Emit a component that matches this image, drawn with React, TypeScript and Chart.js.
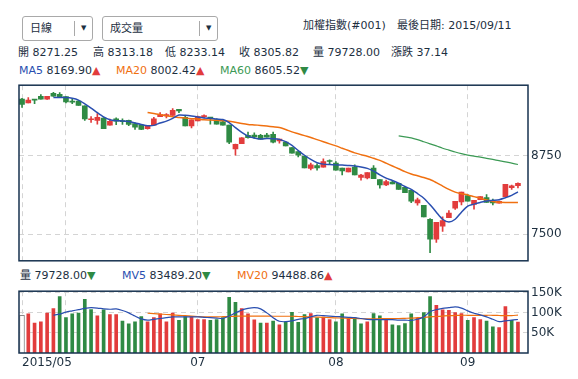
import React, { useEffect, useRef } from 'react';
import { Chart, registerables } from 'chart.js';
Chart.register(...registerables);

const FONT = '"DejaVu Sans", "Noto Sans CJK TC", sans-serif';
const RED = '#e23c3c';
const GREEN = '#2f8a44';
const BLUE = '#2a4fb0';
const ORANGE = '#f07010';
const MA60C = '#3c9a55';
const NAVY = '#17324f';
const TEXT = '#1d2f3f';
const GRID = '#d4d4d4';

const monthTickIndex = [0, 7, 28, 50, 71];
const monthTickLabels = ['2015/05', '06', '07', '08', '09'];
const priceTicks = [7500, 8750];
const volumeTicks = [50000, 100000, 150000];
const volumeTickLabels = ['50K', '100K', '150K'];

const open = [
  9643, 9583, 9638, 9687, 9643, 9736, 9721, 9683, 9613, 9613,
  9539, 9316, 9306, 9342, 9232, 9331, 9302, 9306, 9257, 9232,
  9173, 9232, 9365, 9376, 9386, 9480, 9356, 9217, 9297, 9365,
  9356, 9316, 9282, 9232, 8852, 8935, 9069, 9075, 9069, 9075,
  9084, 8980, 8961, 8876, 8812, 8738, 8545, 8590, 8565, 8664,
  8630, 8550, 8490, 8565, 8402, 8393, 8550, 8368, 8283, 8328,
  8308, 8244, 8194, 7997, 7957, 7734, 7419, 7627, 7760, 7912,
  8012, 8111, 7972, 8046, 8081, 8022, 7992, 8096, 8239, 8271.25,
];
const high = [
  9658, 9668, 9640, 9717, 9690, 9751, 9746, 9685, 9643, 9623,
  9539, 9365, 9416, 9350, 9327, 9346, 9331, 9311, 9267, 9240,
  9222, 9356, 9430, 9416, 9494, 9480, 9380, 9316, 9376, 9395,
  9356, 9331, 9306, 9232, 8930, 9035, 9119, 9109, 9084, 9099,
  9119, 9010, 8961, 8876, 8812, 8738, 8630, 8615, 8694, 8679,
  8654, 8550, 8550, 8600, 8451, 8476, 8590, 8368, 8357, 8343,
  8308, 8244, 8194, 8071, 7957, 7749, 7686, 7775, 7874, 8022,
  8170, 8130, 8037, 8096, 8130, 8056, 8027, 8293, 8278, 8313.18,
];
const low = [
  9514, 9583, 9573, 9643, 9640, 9685, 9680, 9583, 9573, 9543,
  9306, 9276, 9247, 9173, 9232, 9238, 9242, 9222, 9164, 9160,
  9168, 9232, 9365, 9346, 9386, 9430, 9217, 9187, 9297, 9346,
  9247, 9247, 9232, 8935, 8753, 8935, 9024, 9020, 9010, 9040,
  8950, 8946, 8901, 8787, 8728, 8550, 8520, 8516, 8565, 8605,
  8516, 8442, 8490, 8442, 8357, 8378, 8382, 8230, 8268, 8298,
  8209, 8160, 8000, 7960, 7775, 7207, 7370, 7542, 7760, 7893,
  7963, 8022, 7898, 8046, 8002, 7963, 7992, 8096, 8209, 8233.14,
];
const close = [
  9558, 9628, 9628, 9643, 9687, 9690, 9680, 9598, 9595, 9543,
  9330, 9325, 9356, 9173, 9290, 9292, 9287, 9242, 9198, 9164,
  9217, 9331, 9398, 9400, 9465, 9455, 9217, 9316, 9365, 9380,
  9341, 9247, 9232, 8961, 8926, 9028, 9032, 9045, 9010, 9040,
  8961, 9010, 8901, 8787, 8753, 8550, 8600, 8550, 8654, 8654,
  8516, 8506, 8550, 8442, 8438, 8476, 8382, 8283, 8333, 8298,
  8209, 8160, 8022, 8046, 7775, 7419, 7686, 7716, 7834, 8022,
  8170, 8022, 8037, 8096, 8002, 7997, 8022, 8293, 8268.68, 8305.82,
];
const volume = [
  94000, 100000, 77000, 80000, 102000, 113000, 143000, 91000, 100000, 102000,
  136000, 111000, 95000, 110000, 98000, 98000, 82000, 75000, 80000, 93000,
  80000, 91000, 100000, 80000, 102000, 84000, 93000, 93000, 86000, 86000,
  84000, 86000, 91000, 141000, 129000, 113000, 100000, 85000, 77000, 77000,
  82000, 73000, 80000, 104000, 79000, 98000, 101000, 90000, 92000, 86000,
  80000, 100000, 88000, 90000, 75000, 80000, 101000, 95000, 86000, 73000,
  71000, 76000, 100000, 89000, 103000, 143000, 121000, 110000, 109000, 103000,
  101000, 84000, 91000, 86000, 82000, 68000, 66000, 118000, 84000, 79728,
];
const ma5 = [
  null, null, null, null, null, 9668, 9668, 9668, 9657, 9628,
  9569, 9502, 9428, 9361, 9316, 9302, 9297, 9287, 9264, 9242,
  9223, 9227, 9265, 9294, 9339, 9391, 9386, 9376, 9361, 9345,
  9339, 9328, 9319, 9272, 9190, 9116, 9057, 9027, 9012, 9017,
  9015, 9005, 8968, 8909, 8827, 8753, 8686, 8634, 8612, 8605,
  8600, 8597, 8590, 8582, 8568, 8545, 8501, 8442, 8390, 8353,
  8308, 8256, 8212, 8145, 8071, 7967, 7849, 7737, 7693, 7737,
  7849, 7945, 7977, 8004, 8027, 8037, 8046, 8078, 8115, 8169.9,
];
const ma20 = [
  null, null, null, null, null, null, null, null, null, null,
  null, null, null, null, null, null, null, null, null, null,
  9431, 9416, 9398, 9379, 9364, 9354, 9343, 9334, 9327, 9316,
  9313, 9309, 9302, 9294, 9276, 9257, 9242, 9235, 9227, 9217,
  9205, 9193, 9161, 9124, 9094, 9064, 9035, 9001, 8968, 8934,
  8901, 8864, 8827, 8790, 8763, 8738, 8704, 8671, 8627, 8582,
  8538, 8493, 8456, 8427, 8400, 8367, 8318, 8264, 8212, 8167,
  8141, 8123, 8096, 8071, 8041, 8019, 8007, 8004, 8004, 8002.42,
];
const ma60 = [
  null, null, null, null, null, null, null, null, null, null,
  null, null, null, null, null, null, null, null, null, null,
  null, null, null, null, null, null, null, null, null, null,
  null, null, null, null, null, null, null, null, null, null,
  null, null, null, null, null, null, null, null, null, null,
  null, null, null, null, null, null, null, null, null, null,
  9060, 9045, 9030, 9002, 8968, 8934, 8901, 8864, 8835, 8805,
  8778, 8756, 8738, 8723, 8704, 8686, 8667, 8649, 8627, 8605.52,
];
const mv5 = [
  null, null, null, null, null, 94000, 97000, 102000, 105000, 108000,
  111000, 113000, 112000, 110000, 109000, 110000, 106000, 100000, 92000, 85000,
  82000, 84000, 86000, 88000, 90000, 90000, 90000, 90000, 90000, 89000,
  88000, 87000, 86000, 92000, 100000, 107000, 111000, 113000, 110000, 100000,
  88000, 79000, 78000, 80000, 84000, 86000, 90000, 94000, 93000, 92000,
  91000, 90000, 89000, 88000, 86000, 84000, 83000, 83000, 83000, 83000,
  82000, 82000, 81000, 84000, 90000, 103000, 108000, 111000, 113000, 115000,
  112000, 105000, 99000, 95000, 90000, 84000, 78000, 80000, 82000, 83489.2,
];
const mv20 = [
  null, null, null, null, null, null, null, null, null, null,
  null, null, null, null, null, null, null, null, null, null,
  99000, 98000, 97000, 96000, 95000, 94000, 93000, 92000, 91000, 90000,
  90000, 90000, 90500, 91000, 91500, 92000, 92000, 92000, 92000, 92000,
  91600, 91600, 91600, 91600, 91000, 90500, 90000, 89500, 89000, 88000,
  87500, 87000, 86500, 86000, 85500, 85000, 85000, 85500, 86000, 86000,
  86000, 86500, 87000, 88000, 89000, 90000, 91000, 92000, 93000, 93500,
  94000, 94000, 94000, 94000, 94000, 94000, 93500, 93000, 93000, 94488.86,
];

const X_MIN = -0.48;
const X_MAX = 80.6;

const candleColor = open.map((o, i) => (close[i] >= o ? RED : GREEN));
const volColor = close.map((c, i) => (i === 0 ? '#ffffff' : c >= close[i - 1] ? RED : GREEN));
const volBorder = close.map((c, i) => (i === 0 ? '#8a8a8a' : 'rgba(0,0,0,0)'));

const boxPlugin = {
  id: 'boxBorder',
  afterDraw(chart: any) {
    const { ctx, chartArea } = chart;
    const { left, top, right, bottom } = chartArea;
    ctx.save();
    ctx.strokeStyle = NAVY;
    ctx.lineWidth = 1.5;
    ctx.strokeRect(left, top, right - left, bottom - top);
    ctx.restore();
  },
};

function xScale(): any {
  return {
    type: 'linear',
    min: X_MIN,
    max: X_MAX,
    offset: false,
    afterBuildTicks: (s: any) => {
      s.ticks = monthTickIndex.map((v) => ({ value: v }));
    },
    afterFit: (s: any) => {
      s.height = 0;
    },
    ticks: { display: false },
    grid: { color: GRID, drawTicks: false, lineWidth: 1, offset: false },
    border: { display: false, dash: [5, 4] },
  };
}

function lineDs(data: (number | null)[], color: string, width: number) {
  return {
    type: 'line' as const,
    data: data.map((v, i) => ({ x: i, y: v })),
    borderColor: color,
    borderWidth: width,
    pointRadius: 0,
    tension: 0.25,
    fill: false,
    spanGaps: false,
    order: 0,
  };
}

function Label({ x, cy, size = 11, children }: any) {
  return (
    <div
      style={{
        position: 'absolute',
        left: x,
        top: cy - 8,
        height: 16,
        lineHeight: '16px',
        fontSize: size,
        whiteSpace: 'nowrap',
      }}
    >
      {children}
    </div>
  );
}

function Dropdown({ x, w, sep, text }: any) {
  return (
    <div
      style={{
        position: 'absolute',
        left: x,
        top: 16,
        width: w,
        height: 25,
        border: '1px solid #a9a9a9',
        borderRadius: 3,
        boxSizing: 'border-box',
        background: '#fff',
      }}
    >
      <span style={{ position: 'absolute', left: 7, top: 0, lineHeight: '23px', fontSize: 11 }}>{text}</span>
      <div style={{ position: 'absolute', left: sep, top: 4, width: 1, height: 15, background: '#a9a9a9' }} />
      <span style={{ position: 'absolute', left: sep + 7, top: 0, lineHeight: '23px', fontSize: 7 }}>▼</span>
    </div>
  );
}

const Up = () => <span style={{ color: RED }}>▲</span>;
const Down = () => <span style={{ color: GREEN }}>▼</span>;

export default function App() {
  const mainRef = useRef<HTMLCanvasElement>(null);
  const volRef = useRef<HTMLCanvasElement>(null);

  useEffect(() => {
    const idx = open.map((_, i) => i);
    const main = new Chart(mainRef.current as HTMLCanvasElement, {
      type: 'bar',
      data: {
        datasets: [
          lineDs(ma5, BLUE, 1.5),
          lineDs(ma20, ORANGE, 1.5),
          lineDs(ma60, MA60C, 1.2),
          {
            type: 'bar',
            data: idx.map((i) => ({ x: i, y: [open[i], close[i]] })),
            backgroundColor: candleColor,
            barThickness: 5,
            minBarLength: 1,
            grouped: false,
            order: 1,
          } as any,
          {
            type: 'bar',
            data: idx.map((i) => ({ x: i, y: [low[i], high[i]] })),
            backgroundColor: candleColor,
            barThickness: 1,
            grouped: false,
            order: 2,
          } as any,
        ],
      },
      options: {
        animation: false,
        responsive: false,
        maintainAspectRatio: false,
        events: [],
        layout: { padding: { left: 19, top: 4, bottom: 4, right: 0 } },
        plugins: { legend: { display: false }, tooltip: { enabled: false } },
        scales: {
          x: xScale(),
          y: {
            position: 'right',
            min: 7077,
            max: 9865,
            afterBuildTicks: (s: any) => {
              s.ticks = priceTicks.map((v) => ({ value: v }));
            },
            afterFit: (s: any) => {
              s.width = 50;
            },
            ticks: { font: { family: FONT, size: 12 }, color: TEXT, padding: 3, callback: (v: any) => String(v) },
            grid: { color: GRID, drawTicks: false, lineWidth: 1 },
            border: { display: false, dash: [5, 4] },
          },
        },
      } as any,
      plugins: [boxPlugin],
    });

    const xLabelPlugin = {
      id: 'monthLabels',
      afterDraw(chart: any) {
        const { ctx } = chart;
        const xs = chart.scales.x;
        ctx.save();
        ctx.font = `12px ${FONT}`;
        ctx.fillStyle = TEXT;
        ctx.textBaseline = 'middle';
        ctx.textAlign = 'left';
        let prevRight = -Infinity;
        monthTickIndex.forEach((v, k) => {
          const label = monthTickLabels[k];
          const px = xs.getPixelForValue(v);
          const w = ctx.measureText(label).width;
          const x0 = k === 0 ? px : px - w / 2;
          if (x0 < prevRight + 4) return;
          ctx.fillText(label, x0, 363 - 281);
          prevRight = x0 + w;
        });
        ctx.restore();
      },
    };

    const vol = new Chart(volRef.current as HTMLCanvasElement, {
      type: 'bar',
      data: {
        datasets: [
          lineDs(mv5, BLUE, 1.2),
          lineDs(mv20, ORANGE, 1.2),
          {
            type: 'bar',
            data: idx.map((i) => ({ x: i, y: volume[i] })),
            backgroundColor: volColor,
            borderColor: volBorder,
            borderWidth: 1,
            barThickness: 5,
            grouped: false,
            order: 1,
          } as any,
        ],
      },
      options: {
        animation: false,
        responsive: false,
        maintainAspectRatio: false,
        events: [],
        layout: { padding: { left: 19, top: 4, bottom: 26, right: 0 } },
        plugins: { legend: { display: false }, tooltip: { enabled: false } },
        scales: {
          x: xScale(),
          y: {
            position: 'right',
            min: 0,
            max: 154000,
            afterBuildTicks: (s: any) => {
              s.ticks = volumeTicks.map((v) => ({ value: v }));
            },
            afterFit: (s: any) => {
              s.width = 50;
            },
            ticks: {
              font: { family: FONT, size: 12 },
              color: TEXT,
              padding: 3,
              callback: (v: any) => volumeTickLabels[volumeTicks.indexOf(v)] ?? '',
            },
            grid: { color: GRID, drawTicks: false, lineWidth: 1 },
            border: { display: false, dash: [5, 4] },
          },
        },
      } as any,
      plugins: [boxPlugin, xLabelPlugin],
    });

    return () => {
      main.destroy();
      vol.destroy();
    };
  }, []);

  return (
    <div
      style={{
        position: 'fixed',
        left: 0,
        top: 0,
        width: 578,
        height: 379,
        background: '#fff',
        fontFamily: FONT,
        color: TEXT,
        overflow: 'hidden',
      }}
    >
      <Dropdown x={22} w={71} sep={51} text="日線" />
      <Dropdown x={102} w={116} sep={96} text="成交量" />
      <Label x={303} cy={26}>加權指數(#001)</Label>
      <Label x={397} cy={26}>最後日期: 2015/09/11</Label>

      <Label x={18} cy={53}>開 8271.25</Label>
      <Label x={93} cy={53}>高 8313.18</Label>
      <Label x={165} cy={53}>低 8233.14</Label>
      <Label x={239} cy={53}>收 8305.82</Label>
      <Label x={313} cy={53}>量 79728.00</Label>
      <Label x={391} cy={53}>漲跌 37.14</Label>

      <Label x={19} cy={71}>
        <span style={{ color: BLUE }}>MA5</span> 8169.90<Up />
      </Label>
      <Label x={116} cy={71}>
        <span style={{ color: ORANGE }}>MA20</span> 8002.42<Up />
      </Label>
      <Label x={220} cy={71}>
        <span style={{ color: MA60C }}>MA60</span> 8605.52<Down />
      </Label>

      <Label x={20} cy={276}>
        量 79728.00<Down />
      </Label>
      <Label x={122} cy={276}>
        <span style={{ color: BLUE }}>MV5</span> 83489.20<Down />
      </Label>
      <Label x={237} cy={276}>
        <span style={{ color: ORANGE }}>MV20</span> 94488.86<Up />
      </Label>

      <canvas
        ref={mainRef}
        width={578}
        height={196}
        style={{ position: 'absolute', left: 0, top: 75, width: 578, height: 196 }}
      />
      <canvas
        ref={volRef}
        width={578}
        height={98}
        style={{ position: 'absolute', left: 0, top: 281, width: 578, height: 98 }}
      />
    </div>
  );
}
